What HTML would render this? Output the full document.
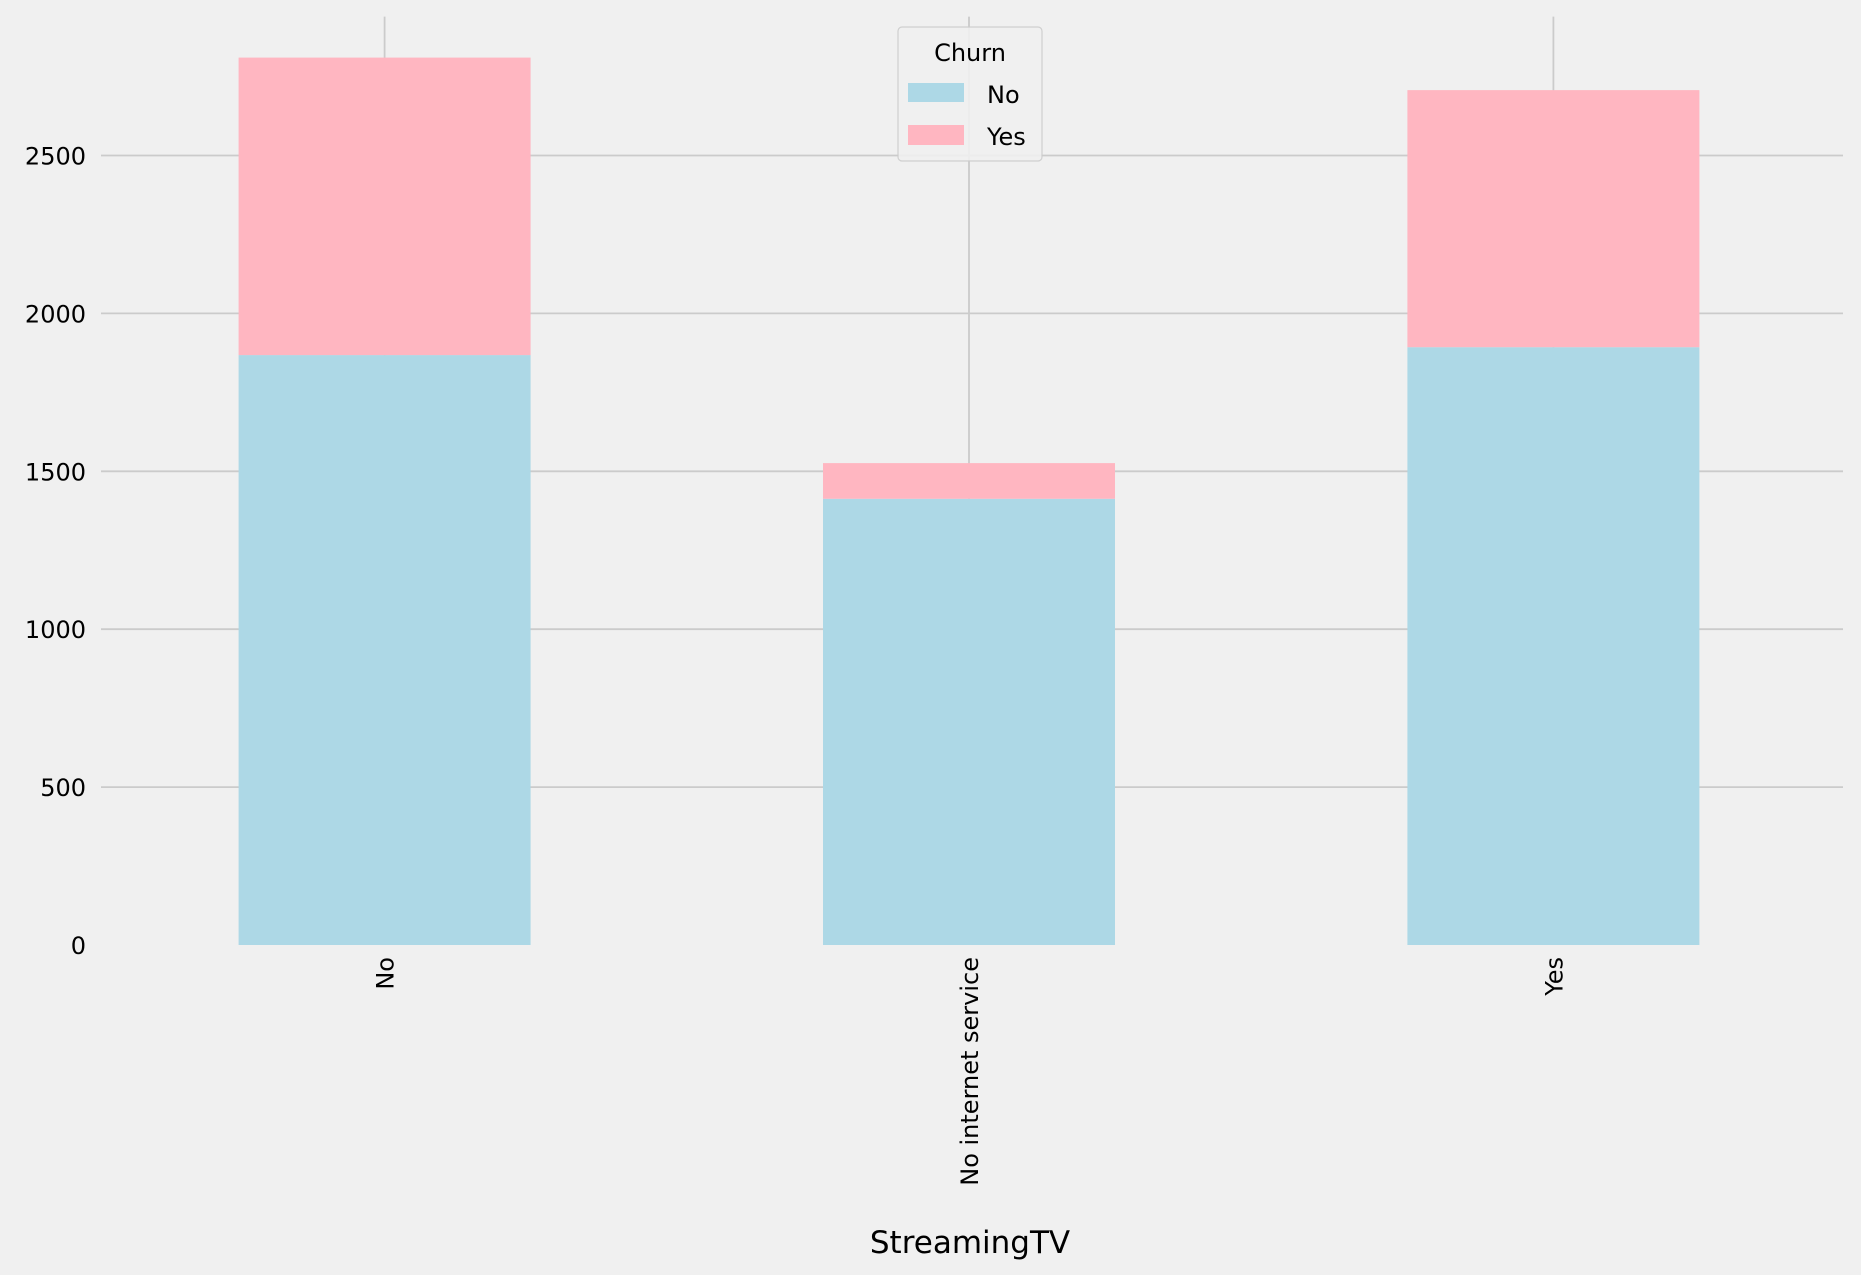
<!DOCTYPE html>
<html><head><meta charset="utf-8"><style>
html,body{margin:0;padding:0;background:#f0f0f0;}
svg{display:block;font-family:"DejaVu Sans","Liberation Sans",sans-serif;}
</style></head><body>
<svg id="chart" width="1861" height="1275" viewBox="0 0 1861 1275">
<rect width="1861" height="1275" fill="#f0f0f0"/>
<g id="grid"></g><g id="bars"></g><g id="axes"></g>
<g>
<rect x="898" y="27" width="144" height="134" rx="4" fill="#f0f0f0" stroke="#cccccc" stroke-width="1.2" opacity="0.9"/>
<text x="970" y="61" font-size="24" text-anchor="middle" fill="#000">Churn</text>
<rect x="908" y="83" width="56" height="19" fill="#add8e6"/>
<text x="987" y="103" font-size="24" fill="#000">No</text>
<rect x="908" y="125" width="56" height="20" fill="#ffb6c1"/>
<text x="987" y="145" font-size="24" fill="#000">Yes</text>
</g>
<text x="970" y="1253" font-size="31" text-anchor="middle" fill="#000">StreamingTV</text>
</svg>
<script>
const categories = ["No", "No internet service", "Yes"];
const churnNo = [1868, 1413, 1893];
const churnYes = [942, 113, 814];
const yTicks = [0, 500, 1000, 1500, 2000, 2500];

const NS = "http://www.w3.org/2000/svg";
const x0 = 101, x1 = 1843, yBase = 945, pxPer = 157.9 / 500;
const yScale = v => yBase - v * pxPer;
const step = 584.4, firstC = 384.6, barW = 292;
const xScale = i => firstC + i * step;
function mk(tag, attrs, parent) {
  const el = document.createElementNS(NS, tag);
  for (const k in attrs) el.setAttribute(k, attrs[k]);
  parent.appendChild(el);
  return el;
}
const grid = document.getElementById('grid');
const bars = document.getElementById('bars');
const axes = document.getElementById('axes');
yTicks.forEach(t => {
  const y = yScale(t);
  if (t > 0) {
    const l = mk('line', {x1: x0, x2: x1, y1: y, y2: y, stroke: '#cbcbcb', 'stroke-width': 1.8}, grid);
    
    
  }
  const tx = mk('text', {x: 86, y: y + 9, 'font-size': 24, 'text-anchor': 'end', fill: '#000'}, axes);
  tx.textContent = t;
  
  
});
categories.forEach((c, i) => {
  const cx = xScale(i);
  const vl = mk('line', {x1: cx, x2: cx, y1: 16.6, y2: yBase, stroke: '#cbcbcb', 'stroke-width': 1.8}, grid);
  
  
  const b1 = mk('rect', {x: cx - barW / 2, y: yScale(churnNo[i]), width: barW, height: yBase - yScale(churnNo[i]), fill: '#add8e6'}, bars);
  
  
  const top = churnNo[i] + churnYes[i];
  const b2 = mk('rect', {x: cx - barW / 2, y: yScale(top), width: barW, height: yScale(churnNo[i]) - yScale(top), fill: '#ffb6c1'}, bars);
  
  
  const tl = mk('text', {x: 0, y: 0, 'font-size': 24, 'text-anchor': 'end', fill: '#000', transform: `translate(${cx + 9},957) rotate(-90)`}, axes);
  tl.textContent = c;
  
  
});
</script>
</body></html>
